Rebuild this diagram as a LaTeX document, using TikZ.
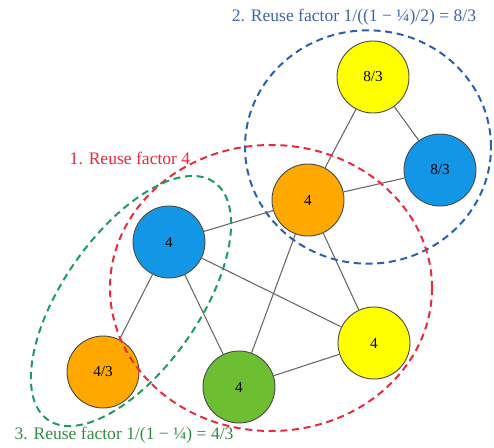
\documentclass[tikz,border=0pt]{standalone}
\usepackage{fontspec}
\setmainfont{Liberation Serif}
\usetikzlibrary{backgrounds}
\definecolor{cellBlue}{RGB}{20,150,230}
\definecolor{cellOrange}{RGB}{255,168,0}
\definecolor{cellYellow}{RGB}{255,255,0}
\definecolor{cellGreen}{RGB}{110,190,50}
\definecolor{zoneBlue}{RGB}{45,95,175}
\definecolor{zoneRed}{RGB}{235,40,60}
\definecolor{zoneGreen}{RGB}{30,155,95}
\definecolor{labelBlue}{RGB}{60,100,175}
\definecolor{labelGreen}{RGB}{50,140,70}

\begin{document}
\begin{tikzpicture}[x=0.03cm,y=-0.03cm,
  cell/.style={circle,draw=black!70,line width=0.8pt,minimum size=2.16cm,inner sep=0pt,font=\fontsize{13}{15}\selectfont},
  link/.style={draw=black!60,line width=0.9pt},
  zone/.style={dashed,line width=1.7pt,dash pattern=on 6pt off 4pt},
  factor/.style={font=\fontsize{15}{18}\selectfont,inner sep=0pt}
]
  \useasboundingbox (0,0) rectangle (494,448);

  \node[cell,fill=cellYellow] (y83) at (373,77) {8/3};
  \node[cell,fill=cellBlue] (b83) at (440,170) {8/3};
  \node[cell,fill=cellOrange] (o4) at (308,200) {4};
  \node[cell,fill=cellBlue] (b4) at (169,242) {4};
  \node[cell,fill=cellYellow] (y4) at (374,343) {4};
  \node[cell,fill=cellGreen] (g4) at (239,387) {4};
  \node[cell,fill=cellOrange] (o43) at (103,372) {4/3};

  \begin{pgfonlayer}{background}
    \draw[link] (y83) -- (o4);
    \draw[link] (y83) -- (b83);
    \draw[link] (o4) -- (b83);
    \draw[link] (o4) -- (b4);
    \draw[link] (o4) -- (g4);
    \draw[link] (o4) -- (y4);
    \draw[link] (b4) -- (y4);
    \draw[link] (b4) -- (g4);
    \draw[link] (b4) -- (o43);
    \draw[link] (g4) -- (y4);
  \end{pgfonlayer}

  % reuse zones
  \draw[zone,zoneBlue] (368,147) ellipse [x radius=3.69cm,y radius=3.5cm];
  \draw[zone,zoneRed] (271,288) ellipse [x radius=4.83cm,y radius=4.29cm];
  \draw[zone,zoneGreen,rotate around={55:(131,301)}] (131,301) ellipse [x radius=4.35cm,y radius=2.04cm];

  \node[factor,text=labelBlue] (f2) at (354,17) {2. Reuse factor 1/((1 − ¼)/2) = 8/3};
  \node[factor,text=zoneRed] (f1) at (130,158) {1. Reuse factor 4};
  \node[factor,text=labelGreen] (f3) at (124,435) {3. Reuse factor 1/(1 − ¼) = 4/3};
\end{tikzpicture}
\end{document}
